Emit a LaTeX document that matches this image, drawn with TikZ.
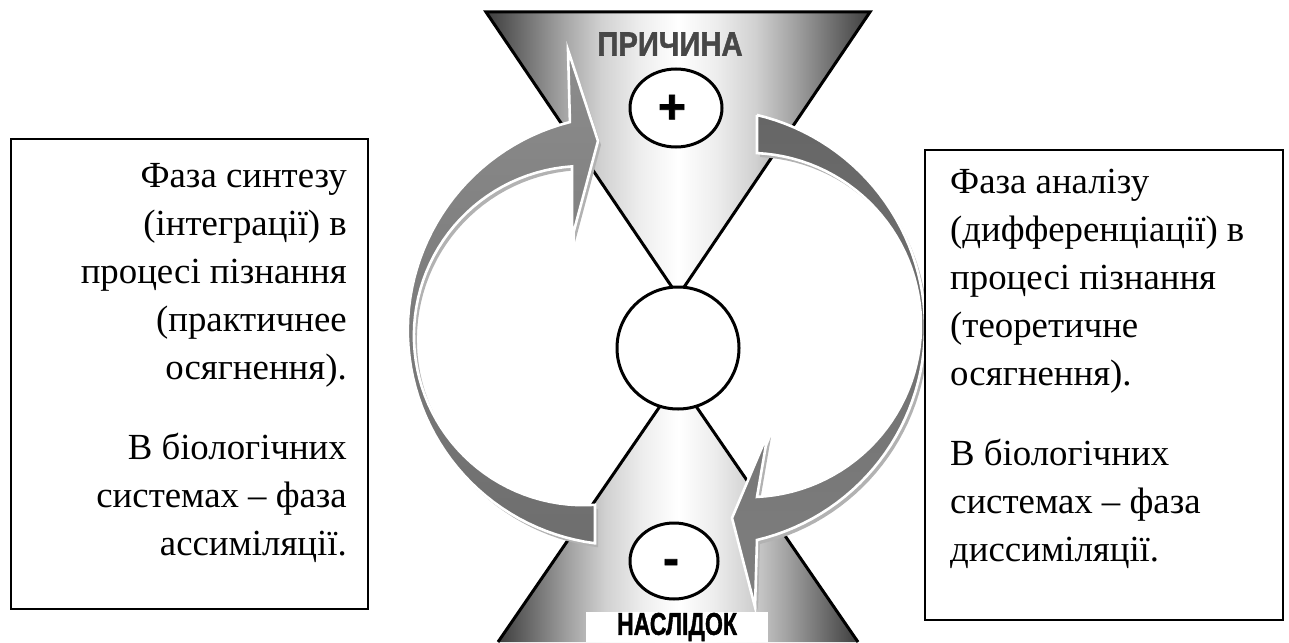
\documentclass[tikz,border=0pt]{standalone}
\usepackage{fontspec}
\setmainfont{Liberation Serif}
\newfontfamily\headfont{Liberation Sans}[UprightFont={* Bold}, FakeBold=1.6]
\usetikzlibrary{shapes.geometric}

% grey-to-white-to-grey fill of the hourglass halves
\pgfdeclarehorizontalshading{glass}{100bp}{%
  color(0bp)=(black!76); color(25bp)=(black!76); color(31bp)=(black!52);
  color(35bp)=(black!36); color(40bp)=(black!18); color(45bp)=(black!7);
  color(50bp)=(white);
  color(55bp)=(black!7); color(60bp)=(black!18); color(65bp)=(black!36);
  color(69bp)=(black!52); color(75bp)=(black!76); color(100bp)=(black!76)}

% outlines of the two curved arrows
\newcommand\synthesisarrow{(595,543.3)
  -- plot[domain=97.4:255.8, samples=60] ({622.6+214.8*cos(\x)},{330.3+214.8*sin(\x)})
  -- (568,50) -- (598,141) -- (572,238)
  -- plot[domain=266.1:86.1, samples=60] ({583.5+169.6*cos(\x)},{335.6+169.6*sin(\x)})
  -- cycle}
\newcommand\analysisarrow{(757,115)
  -- plot[domain=283.3:436.66, samples=60] ({706.6+218.4*cos(\x)},{327.5+218.4*sin(\x)})
  -- (755,607) -- (732,518) -- (768,433)
  -- plot[domain=87.3:-87.3, samples=60] ({748.9+172.1*cos(\x)},{325+172.1*sin(\x)})
  -- cycle}

\begin{document}
\begin{tikzpicture}[x=1pt,y=-1pt,
  edge/.style={line width=3pt, line join=miter},
  ring/.style={draw, line width=3pt, fill=white, inner sep=0pt},
  signmark/.style={inner sep=0pt, font=\headfont\fontsize{48}{48}\selectfont},
  arrowshadow/.style={fill=black!30},
  arrowbody/.style={draw=white, line width=2.6pt, line join=miter},
  textbox/.style={draw, line width=1.8pt, fill=white, inner sep=0pt},
  phase/.style={inner sep=0pt, font=\fontsize{36.8}{48}\selectfont},
]
\useasboundingbox (0,0) rectangle (1289,642);

% hourglass
\coordinate (ttl) at (486,12);
\coordinate (ttr) at (870,12);
\coordinate (tap) at (678,296);
\coordinate (bap) at (678,380);
\coordinate (bbl) at (498,642);
\coordinate (bbr) at (858,642);
\shade[shading=glass] (ttl) -- (ttr) -- (tap) -- cycle;
\shade[shading=glass] (bbl) -- (bap) -- (bbr) -- cycle;
\draw[edge] (ttl) -- (ttr) -- (tap) -- cycle;
\draw[edge] (bbl) -- (bap) -- (bbr);

\node[text=black!72, inner sep=0pt] (causename) at (670,44)
  {\resizebox{145pt}{23pt}{\headfont ПРИЧИНА}};

\node[ring, circle, minimum size=122pt] (core) at (678,348) {};
\node[ring, ellipse, minimum width=92pt, minimum height=78pt] (cause) at (676,108) {};
\node[ring, ellipse, minimum width=88pt, minimum height=76pt] (effect) at (674,561) {};
\node[signmark] (plus) at (672,109) {+};
\node[signmark] (minus) at (671,567) {-};

% curved arrows
\fill[arrowshadow, shift={(3,4)}] \synthesisarrow;
\path[arrowbody, top color=black!45, bottom color=black!57] \synthesisarrow;
\fill[arrowshadow, shift={(3,4)}] \analysisarrow;
\path[arrowbody, top color=black!60, bottom color=black!50] \analysisarrow;

\node[fill=white, inner sep=0pt, minimum width=182pt, minimum height=30pt] (effectname) at (677,627)
  {\resizebox{120pt}{22pt}{\headfont НАСЛІДОК}};

% side boxes
\node[textbox, minimum width=357pt, minimum height=470pt] (synbox) at (189.5,374) {};
\node[textbox, minimum width=358pt, minimum height=470pt] (anabox) at (1104,385) {};

\node[phase, align=right, anchor=north east] (syntext) at (347,163) {%
  Фаза синтезу\\
  (інтеграції) в\\
  процесі пізнання\\
  (практичнее\\
  осягнення).\\[32pt]
  В біологічних\\
  системах – фаза\\
  ассиміляції.};
\node[phase, align=left, anchor=north west] (anatext) at (950,169) {%
  Фаза аналізу\\
  (дифференціації) в\\
  процесі пізнання\\
  (теоретичне\\
  осягнення).\\[32pt]
  В біологічних\\
  системах – фаза\\
  диссиміляції.};
\end{tikzpicture}
\end{document}
